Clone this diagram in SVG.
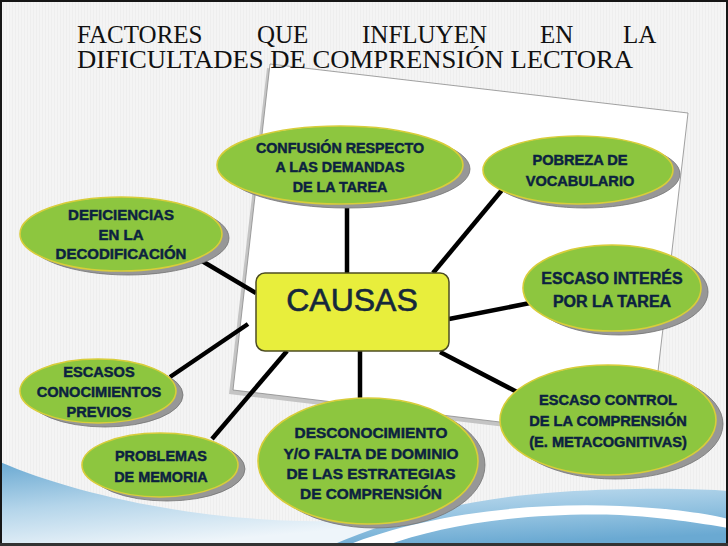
<svg xmlns="http://www.w3.org/2000/svg" width="728" height="546" viewBox="0 0 728 546">
<defs>
<style>
.title{font-family:"Liberation Serif","Times New Roman",serif;font-size:25px;fill:#111}
.lbl{font-family:"Liberation Sans",Arial,sans-serif;font-weight:bold;fill:#0c2240;stroke:#0c2240;stroke-width:0.45;text-anchor:middle}
.shadow{fill:#979797;stroke:#737373;stroke-width:0.8}
.bubble{fill:#8dc63f;stroke:#d8cd3a;stroke-width:1.6}
.conn line{stroke:#000;stroke-width:4.5;stroke-linecap:butt}
</style>
<pattern id="stripes" width="3" height="10" patternUnits="userSpaceOnUse">
<rect width="3" height="10" fill="#f4f4f4"/>
<rect width="1" height="10" fill="#eeeeee"/>
</pattern>
<linearGradient id="blueL" x1="0" y1="0" x2="0.4" y2="1">
<stop offset="0" stop-color="#6aa9d2"/>
<stop offset="0.5" stop-color="#b4d5ea"/>
<stop offset="1" stop-color="#eef5fa"/>
</linearGradient>
<linearGradient id="blueR" x1="0" y1="0" x2="0.3" y2="1">
<stop offset="0" stop-color="#c3def0"/>
<stop offset="0.6" stop-color="#8fc0df"/>
<stop offset="1" stop-color="#6aa9d2"/>
</linearGradient>
</defs>

<rect x="0" y="0" width="728" height="546" fill="url(#stripes)"/>

<!-- bottom waves -->
<path d="M0,462 C70,492 180,518 300,521 C340,522 360,520 380,518 L380,546 L0,546 Z" fill="url(#blueL)"/>
<path d="M330,546 C400,516 470,498 560,492 C640,487 700,489 728,491 L728,546 Z" fill="url(#blueR)"/>
<path d="M345,546 C420,516 520,502 620,506 C670,508 710,514 728,519 L728,528 C700,523 660,517 620,515 C520,512 440,526 385,546 Z" fill="#ffffff"/>

<!-- paper -->
<polygon points="267,68 685,117 647,444 229,394" fill="#c4c4c4"/>
<polygon points="270,64 688,113 650,440 233,390" fill="#ffffff" stroke="#8a8a8a" stroke-width="0.8"/>

<!-- title -->
<text class="title" y="43"><tspan x="77">FACTORES</tspan><tspan x="257">QUE</tspan><tspan x="362">INFLUYEN</tspan><tspan x="540">EN</tspan><tspan x="623">LA</tspan></text>
<text class="title" x="77" y="68" textLength="556" lengthAdjust="spacingAndGlyphs">DIFICULTADES DE COMPRENSIÓN LECTORA</text>

<!-- connectors -->
<g id="connectors" class="conn">
<line x1="347" y1="203" x2="347" y2="273"/>
<line x1="433" y1="273" x2="502" y2="190"/>
<line x1="449" y1="319" x2="530" y2="303"/>
<line x1="197" y1="258" x2="256" y2="293"/>
<line x1="170" y1="377" x2="248" y2="324"/>
<line x1="212" y1="439" x2="287" y2="351"/>
<line x1="360" y1="351" x2="360" y2="398"/>
<line x1="440" y1="352" x2="517" y2="392"/>
</g>

<!-- center -->
<g id="causas">
<rect x="256" y="273" width="193" height="78" rx="9" fill="#e8ee3c" stroke="#4d4d22" stroke-width="1.5"/>
<text x="352" y="311" font-family="'Liberation Sans',Arial,sans-serif" font-size="32" fill="#16283b" stroke="#16283b" stroke-width="0.6" text-anchor="middle">CAUSAS</text>
</g>

<g id="confusion">
<ellipse class="shadow" cx="347" cy="169" rx="123" ry="39"/>
<ellipse class="bubble" cx="340" cy="165" rx="123" ry="39"/>
<text class="lbl" font-size="14.3"><tspan x="340" y="153">CONFUSIÓN RESPECTO</tspan><tspan x="340" y="172">A LAS DEMANDAS</tspan><tspan x="340" y="192">DE LA TAREA</tspan></text>
</g>

<g id="pobreza">
<ellipse class="shadow" cx="585" cy="174" rx="95" ry="34"/>
<ellipse class="bubble" cx="578" cy="170" rx="95" ry="34"/>
<text class="lbl" font-size="14.6"><tspan x="580" y="165">POBREZA DE</tspan><tspan x="580" y="186">VOCABULARIO</tspan></text>
</g>

<g id="interes">
<ellipse class="shadow" cx="619" cy="292" rx="89" ry="43"/>
<ellipse class="bubble" cx="612" cy="288" rx="89" ry="43"/>
<text class="lbl" font-size="16"><tspan x="612" y="284">ESCASO INTERÉS</tspan><tspan x="612" y="307">POR LA TAREA</tspan></text>
</g>

<g id="deficiencias">
<ellipse class="shadow" cx="128" cy="238" rx="101" ry="37"/>
<ellipse class="bubble" cx="121" cy="234" rx="101" ry="37"/>
<text class="lbl" font-size="15"><tspan x="121" y="220">DEFICIENCIAS</tspan><tspan x="121" y="240">EN LA</tspan><tspan x="121" y="259">DECODIFICACIÓN</tspan></text>
</g>

<g id="conocimientos">
<ellipse class="shadow" cx="105" cy="395" rx="78" ry="32"/>
<ellipse class="bubble" cx="98" cy="391" rx="78" ry="32"/>
<text class="lbl" font-size="14.6"><tspan x="99" y="377">ESCASOS</tspan><tspan x="99" y="397">CONOCIMIENTOS</tspan><tspan x="99" y="417">PREVIOS</tspan></text>
</g>

<g id="memoria">
<ellipse class="shadow" cx="167" cy="469" rx="78" ry="32"/>
<ellipse class="bubble" cx="160" cy="465" rx="78" ry="32"/>
<text class="lbl" font-size="14.4"><tspan x="161" y="461">PROBLEMAS</tspan><tspan x="161" y="482">DE MEMORIA</tspan></text>
</g>

<g id="desconocimiento">
<ellipse class="shadow" cx="375" cy="465" rx="110" ry="63"/>
<ellipse class="bubble" cx="368" cy="461" rx="110" ry="63"/>
<text class="lbl" font-size="15.4"><tspan x="371" y="438">DESCONOCIMIENTO</tspan><tspan x="371" y="459">Y/O FALTA DE DOMINIO</tspan><tspan x="371" y="479">DE LAS ESTRATEGIAS</tspan><tspan x="371" y="499">DE COMPRENSIÓN</tspan></text>
</g>

<g id="control">
<ellipse class="shadow" cx="615" cy="424" rx="108" ry="55"/>
<ellipse class="bubble" cx="608" cy="420" rx="108" ry="55"/>
<text class="lbl" font-size="14.6"><tspan x="608" y="405">ESCASO CONTROL</tspan><tspan x="608" y="426">DE LA COMPRENSIÓN</tspan><tspan x="608" y="447">(E. METACOGNITIVAS)</tspan></text>
</g>

<rect x="1" y="1" width="726" height="543" fill="none" stroke="#161616" stroke-width="2"/>
<line x1="0" y1="544.5" x2="728" y2="544.5" stroke="#333" stroke-width="3"/>
</svg>
